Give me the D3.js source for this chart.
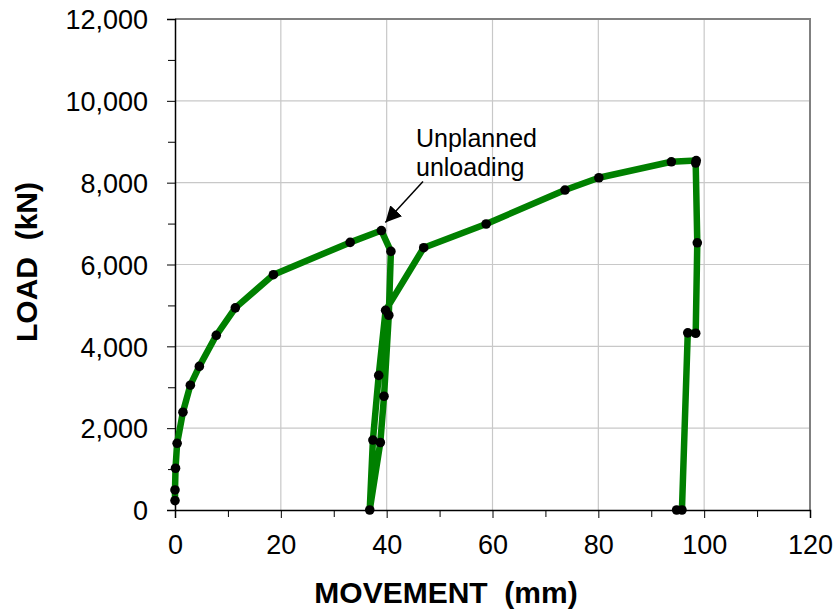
<!DOCTYPE html>
<html>
<head>
<meta charset="utf-8">
<script src="https://cdn.jsdelivr.net/npm/d3@7"></script>
<style>
  html, body { margin: 0; padding: 0; background: #fff; }
  svg { display: block; font-family: "Liberation Sans", Arial, sans-serif; }
</style>
</head>
<body>
<svg id="chart" width="836" height="609"></svg>
<script>
// Load–movement record of the pile test (movement in mm, load in kN)
const movement = [0, 0, 0.1, 0.4, 1.5, 2.9, 4.6, 7.8, 11.4, 18.6, 33.1, 39.0,
                  40.8, 40.4, 39.5, 38.8, 36.8,
                  37.4, 38.5, 39.8, 47.0, 58.8, 73.7, 80.1, 93.8, 98.5, 98.4,
                  98.7, 98.4, 96.9, 95.8, 94.8];
const load = [230, 490, 1020, 1630, 2390, 3050, 3510, 4270, 4940, 5750, 6540, 6830,
              6320, 4760, 2780, 1650, 0,
              1710, 3290, 4880, 6410, 6990, 7820, 8120, 8510, 8540, 8480,
              6530, 4320, 4330, 0, 0];
const xTicks = [0, 20, 40, 60, 80, 100, 120];
const yTicks = [0, 2000, 4000, 6000, 8000, 10000, 12000];
const xMinor = [10, 30, 50, 70, 90, 110];
const yMinor = [1000, 3000, 5000, 7000, 9000, 11000];
const noteLines = ["Unplanned", "unloading"];
const noteIndex = 11; // the peak before the unplanned unloading

const points = movement.map((m, i) => ({ m, p: load[i] }));

const margin = { left: 175, right: 26, top: 19, bottom: 99 };
const W = 836, H = 609;
const svg = d3.select("#chart");

const x = d3.scaleLinear().domain([0, 120]).range([margin.left, W - margin.right]);
const y = d3.scaleLinear().domain([0, 12000]).range([H - margin.bottom, margin.top]);

// grid
svg.append("g").selectAll("line").data(yTicks.slice(1, -1)).join("line")
  .attr("x1", x(0)).attr("x2", x(120))
  .attr("y1", d => y(d)).attr("y2", d => y(d))
  .attr("stroke", "#c8c8c8").attr("stroke-width", 1.2);
svg.append("g").selectAll("line").data(xTicks.slice(1, -1)).join("line")
  .attr("y1", y(0)).attr("y2", y(12000))
  .attr("x1", d => x(d)).attr("x2", d => x(d))
  .attr("stroke", "#c8c8c8").attr("stroke-width", 1.2);

// top and right frame
svg.append("path")
  .attr("d", `M${x(0)},${y(12000)}H${x(120)}V${y(0)}`)
  .attr("fill", "none").attr("stroke", "#808080").attr("stroke-width", 2);

// axes
const xAxis = d3.axisBottom(x).tickValues(xTicks).tickSize(8).tickPadding(17)
  .tickFormat(d3.format("d"));
const gx = svg.append("g").attr("transform", `translate(0,${y(0)})`).call(xAxis);
svg.append("g").attr("transform", `translate(0,${y(0)})`)
  .call(d3.axisBottom(x).tickValues(xMinor).tickSize(7).tickFormat(""))
  .call(g => g.select(".domain").remove());

const yAxis = d3.axisLeft(y).tickValues(yTicks).tickSize(8).tickPadding(19)
  .tickFormat(d3.format(","));
const gy = svg.append("g").attr("transform", `translate(${x(0)},0)`).call(yAxis);
svg.append("g").attr("transform", `translate(${x(0)},0)`)
  .call(d3.axisLeft(y).tickValues(yMinor).tickSize(7).tickFormat(""))
  .call(g => g.select(".domain").remove());

[gx, gy].forEach(g => {
  g.select(".domain").attr("stroke", "#000").attr("stroke-width", 1.5);
  g.selectAll(".tick text").attr("fill", "#000").style("font-size", "27px")
    .style("font-family", '"Liberation Sans", Arial, sans-serif');
});
svg.selectAll(".tick line").attr("stroke", "#000").attr("stroke-width", 1);
gy.selectAll(".tick text").attr("dy", "0.36em");

// axis titles
svg.append("text")
  .attr("x", 446).attr("y", 603)
  .attr("text-anchor", "middle")
  .style("font-size", "30px").style("font-weight", "bold")
  .attr("xml:space", "preserve")
  .text("MOVEMENT  (mm)");
svg.append("text")
  .attr("transform", "translate(37,262) rotate(-90)")
  .attr("text-anchor", "middle")
  .style("font-size", "30px").style("font-weight", "bold")
  .attr("xml:space", "preserve")
  .text("LOAD  (kN)");

// load curve
const line = d3.line().x(d => x(d.m)).y(d => y(d.p));
svg.append("path").datum(points)
  .attr("d", line)
  .attr("fill", "none").attr("stroke", "#008000")
  .attr("stroke-width", 6.5).attr("stroke-linejoin", "round").attr("stroke-linecap", "round");

svg.append("g").selectAll("circle").data(points).join("circle")
  .attr("cx", d => x(d.m)).attr("cy", d => y(d.p)).attr("r", 4.8)
  .attr("fill", "#000");

// annotation
svg.append("defs").append("marker")
  .attr("id", "arrowhead").attr("viewBox", "0 0 10 10")
  .attr("refX", 10).attr("refY", 5)
  .attr("markerWidth", 16).attr("markerHeight", 16)
  .attr("markerUnits", "userSpaceOnUse")
  .attr("orient", "auto")
  .append("path").attr("d", "M0,0L10,5L0,10Z").attr("fill", "#000");

const peak = points[noteIndex];
svg.append("line")
  .attr("x1", 423).attr("y1", 181.5)
  .attr("x2", x(peak.m) + 4).attr("y2", y(peak.p) - 8)
  .attr("stroke", "#000").attr("stroke-width", 1.5)
  .attr("marker-end", "url(#arrowhead)");

svg.append("g").selectAll("text").data(noteLines).join("text")
  .attr("x", 416).attr("y", (d, i) => 147 + i * 29)
  .style("font-size", "25px").attr("fill", "#000")
  .text(d => d);
</script>
</body>
</html>
